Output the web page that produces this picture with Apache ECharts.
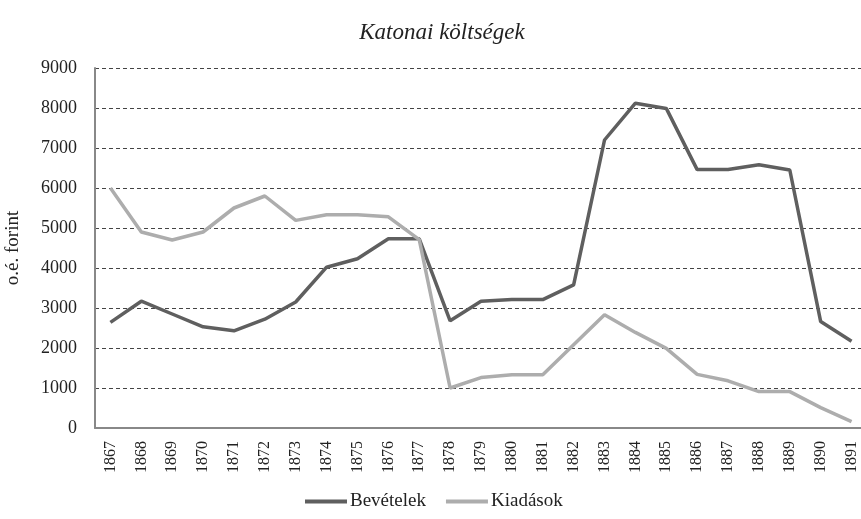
<!DOCTYPE html>
<html>
<head>
<meta charset="utf-8">
<script src="https://cdn.jsdelivr.net/npm/echarts@6/dist/echarts.min.js"></script>
<style>
  html, body { margin: 0; padding: 0; background: #fff; }
  #chart { width: 861px; height: 519px; }
</style>
</head>
<body>
<div id="chart"></div>
<script>
// évek
var years = ['1867', '1868', '1869', '1870', '1871', '1872', '1873', '1874', '1875', '1876',
  '1877', '1878', '1879', '1880', '1881', '1882', '1883', '1884', '1885', '1886',
  '1887', '1888', '1889', '1890', '1891']
var bevetelek = [2640, 3170, 2850, 2530, 2430, 2720, 3150, 4020, 4230, 4730,
  4730, 2680, 3170, 3210, 3210, 3580, 7200, 8120, 7990, 6460,
  6460, 6580, 6450, 2660, 2170]
var kiadasok = [6000, 4900, 4700, 4900, 5500, 5800, 5190, 5330, 5330, 5280,
  4710, 1000, 1260, 1330, 1330, 2080, 2830, 2390, 1990, 1340,
  1180, 910, 910, 510, 160]
var yTicks = [0, 1000, 2000, 3000, 4000, 5000, 6000, 7000, 8000, 9000]

var font = '"Liberation Serif", "DejaVu Serif", serif'
var chart = echarts.init(document.getElementById('chart'))

function lineSeries(name, data, color) {
  return {
    name: name,
    type: 'line',
    data: data,
    symbol: 'none',
    lineStyle: { width: 3.5, color: color },
    itemStyle: { color: color },
    animation: false
  }
}

chart.setOption({
  textStyle: { fontFamily: font },
  title: {
    text: 'Katonai költségek',
    left: 437,
    textAlign: 'center',
    top: 16,
    textStyle: { fontFamily: font, fontStyle: 'italic', fontWeight: 'normal', fontSize: 23, color: '#222' }
  },
  grid: { left: 95, top: 68, width: 772, height: 360, outerBoundsMode: 'none' },
  xAxis: {
    type: 'category',
    data: years,
    boundaryGap: true,
    axisLine: { lineStyle: { color: '#888', width: 2 } },
    axisTick: { show: false },
    axisLabel: { rotate: 90, margin: 13, fontSize: 16, color: '#222', fontFamily: font }
  },
  yAxis: {
    type: 'value',
    min: yTicks[0],
    max: yTicks[yTicks.length - 1],
    interval: 1000,
    name: 'o.é. forint',
    nameLocation: 'middle',
    nameGap: 72,
    nameTextStyle: { fontSize: 19, color: '#222', fontFamily: font },
    axisLine: { show: true, lineStyle: { color: '#888', width: 2 } },
    axisTick: { show: false },
    axisLabel: { margin: 18, fontSize: 18, color: '#222', fontFamily: font, formatter: function (v) { return String(v) } },
    splitLine: { lineStyle: { type: [4, 3], color: '#444', width: 1 } }
  },
  legend: {
    bottom: 3,
    left: 300,
    itemWidth: 42,
    itemHeight: 4,
    itemGap: 20,
    icon: 'rect',
    textStyle: { fontSize: 19, color: '#222', fontFamily: font, padding: [0, 0, 0, -2] },
    data: ['Bevételek', 'Kiadások']
  },
  series: [
    lineSeries('Bevételek', bevetelek, '#5f5f5f'),
    lineSeries('Kiadások', kiadasok, '#adadad')
  ]
})
</script>
</body>
</html>
